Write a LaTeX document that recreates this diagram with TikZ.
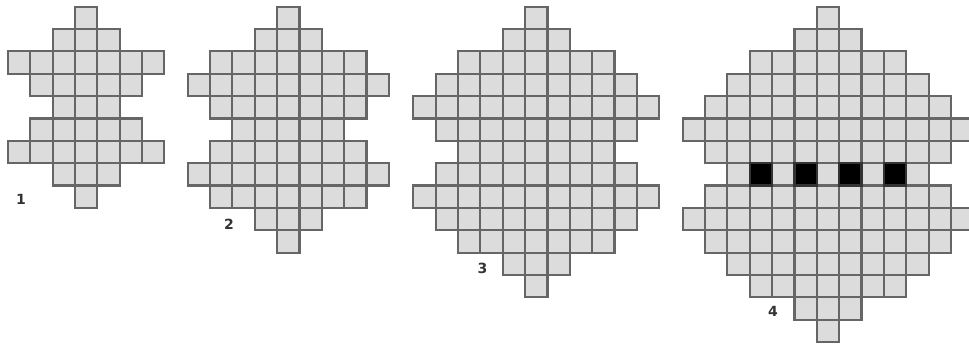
\documentclass[tikz,border=0pt]{standalone}
\usepackage{fontspec}
\setsansfont{DejaVu Sans}
\definecolor{cellfill}{HTML}{DCDCDC}
\definecolor{cellline}{HTML}{666666}
\definecolor{labelcol}{HTML}{333333}
\newcommand\cellsize{22.35}
\newcommand\drawgrid[2]{%
  \foreach \w [count=\r from 0] in {#2} {
    \foreach \c in {1,...,\w} {
      \draw[cellsty] ({#1+(\c-(\w+1)/2-0.5)*\cellsize},{6.7+\r*\cellsize}) rectangle ++(\cellsize,\cellsize);
    }
  }%
}
\begin{document}
\begin{tikzpicture}[x=1pt,y=-1pt,
  cellsty/.style={draw=cellline,fill=cellfill,line width=2.1pt},
  blacksty/.style={draw=black!80,fill=black,line width=2.1pt},
  figlabel/.style={font=\sffamily\bfseries\fontsize{14}{14}\selectfont,text=labelcol,inner sep=0pt}]
\useasboundingbox (0,0) rectangle (969,345);
% figure 1
\drawgrid{86.2}{1,3,7,5,3,5,7,3,1}
% figure 2
\drawgrid{288.3}{1,3,7,9,7,5,7,9,7,3,1}
% figure 3
\drawgrid{536.3}{1,3,7,9,11,9,7,9,11,9,7,3,1}
% figure 4
\drawgrid{828}{1,3,7,9,11,13,11,9,11,13,11,9,7,3,1}
\foreach \c in {-3,-1,1,3} {
  \draw[blacksty] ({828+(\c-0.5)*\cellsize},{6.7+7*\cellsize}) rectangle ++(\cellsize,\cellsize);
}
\node[figlabel] (l1) at (21,199) {1};
\node[figlabel] (l2) at (229,224) {2};
\node[figlabel] (l3) at (482.5,268) {3};
\node[figlabel] (l4) at (773,311) {4};
\end{tikzpicture}
\end{document}
